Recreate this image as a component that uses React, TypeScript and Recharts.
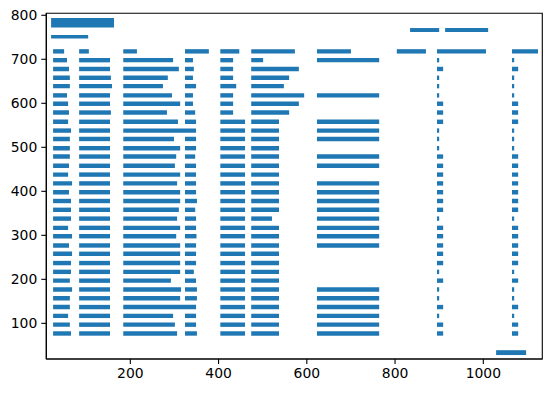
import { ComposedChart, ReferenceArea, XAxis, YAxis } from "recharts";

const xDomain = [9.6, 1133.7];
const yDomain = [19, 804.5];
const xTicks = [200, 400, 600, 800, 1000];
const yTicks = [100, 200, 300, 400, 500, 600, 700, 800];

// table body: one entry per text row, top to bottom
const rowY = [698, 678, 658, 639, 618, 599, 579, 558, 538, 519, 498, 479, 458, 438, 418, 398, 378, 358, 338, 317, 298, 277, 258, 237, 217, 197, 177, 157, 137, 117, 97, 77];
const colStart = [25, 84, 184, 324, 404, 474, 623, 895, 1065];
const colAEnd = [56.5, 61, 63, 63, 56.5, 59, 61, 59, 65.6, 63, 63, 63, 61, 59, 68, 61, 65.6, 65.6, 65.6, 59, 68, 61, 68, 65.6, 65.6, 63, 68, 63, 63, 59, 63, 65.6];
const colBEnd = [154, 154, 156, 158.5, 154, 154, 156, 154, 154, 154, 154, 154, 154, 154, 154, 154, 154, 154, 154, 154, 154, 154, 154, 154, 154, 154, 154, 154, 154, 154, 154, 154];
const colCEnd = [297, 310, 285, 274, 294.5, 313, 283, 308, 349, 299, 313, 304, 301, 313, 306, 313, 313, 310, 306, 313, 304, 313, 313, 313, 313, 292, 315, 313, 349, 297, 301, 306];
const colDEnd = [342, 344, 342, 349, 342, 342, 347, 349, null, 349, 349, 347, 349, 349, 349, 349, 351, 347, 349, 349, 350, 349, 349, 349, 344, 349, 351, 351, null, 349, 349, 351];
const colEEnd = [433, 433, 433, 440, 433, 433, 433, 460, 460, 460, 460, 460, 460, 460, 460, 460, 460, 460, 460, 460, 460, 460, 460, 460, 460, 460, 460, 460, 460, 460, 460, 460];
const colFEnd = [501, 582, 560, 548, 594, 582, 560, 537, 537, 537, 537, 537, 537, 537, 537, 537, 537, 537, 521, 537, 537, 537, 537, 537, 537, 537, 537, 537, 537, 537, 537, 537];
const colGEnd = [764, null, null, null, 764, null, null, 764, 764, 764, null, 764, 764, null, 764, 764, 764, 764, 764, 764, 764, 764, null, null, null, null, 764, 764, 764, 764, 764, 764];
const colHEnd = [900, 909, 900, 900, 900, 909, 909, 909, 900, 900, 900, 909, 909, 909, 909, 909, 909, 909, 900, 909, 909, 909, 909, 909, 900, 909, 900, 900, 909, 900, 909, 909];
const colIEnd = [1070, 1079, 1070, 1070, 1070, 1079, 1079, 1079, 1070, 1070, 1070, 1079, 1079, 1079, 1079, 1079, 1079, 1079, 1070, 1079, 1079, 1079, 1079, 1079, 1070, 1079, 1070, 1070, 1079, 1070, 1079, 1079];
const colEnds = [colAEnd, colBEnd, colCEnd, colDEnd, colEEnd, colFEnd, colGEnd, colHEnd, colIEnd];

// header row
const headerY = 718;
const headerStart = [25, 84, 184, 324, 404, 474, 623, 804, 895, 1065];
const headerEnd = [50, 106, 215, 378, 447, 573, 700, 870, 1006, 1124];

// loose blocks: [x0, x1, y0, y1]
const extraBoxes = [
  [20.5, 163, 772, 794],
  [20.5, 104.5, 747, 755],
  [834, 900, 762, 771],
  [913.5, 1011, 762, 771],
  [1029, 1097, 28, 39],
];

const rowHeight = 10;
const blue = "#1f77b4";

const boxes: number[][] = [];
rowY.forEach((y, i) => {
  colEnds.forEach((ends, c) => {
    const end = ends[i];
    if (end != null) boxes.push([colStart[c], end, y - rowHeight / 2, y + rowHeight / 2]);
  });
});
headerStart.forEach((x0, i) => {
  boxes.push([x0, headerEnd[i], headerY - rowHeight / 2, headerY + rowHeight / 2]);
});
extraBoxes.forEach((b) => boxes.push(b));

const tickStyle = { fill: "#000", fontSize: 13.9, fontFamily: "DejaVu Sans" };

export default function App() {
  return (
    <div style={{ position: "absolute", left: 0, top: 0, background: "#fff" }}>
      <ComposedChart
        width={552}
        height={393}
        margin={{ top: 13.3, right: 9.7, bottom: 0, left: 0 }}
      >
        <XAxis
          type="number"
          dataKey="x"
          domain={xDomain}
          ticks={xTicks}
          interval={0}
          allowDataOverflow
          height={34}
          tickSize={5}
          tickMargin={4}
          tick={tickStyle}
          axisLine={{ stroke: "#000", strokeWidth: 1.1 }}
          tickLine={{ stroke: "#000", strokeWidth: 1.1 }}
        />
        <YAxis
          type="number"
          dataKey="y"
          domain={yDomain}
          ticks={yTicks}
          interval={0}
          allowDataOverflow
          width={46.3}
          tickSize={5}
          tickMargin={4}
          tick={tickStyle}
          axisLine={{ stroke: "#000", strokeWidth: 1.1 }}
          tickLine={{ stroke: "#000", strokeWidth: 1.1 }}
        />
        {boxes.map((b, i) => (
          <ReferenceArea
            key={i}
            x1={b[0]}
            x2={b[1]}
            y1={b[2]}
            y2={b[3]}
            fill={blue}
            fillOpacity={1}
            strokeWidth={0}
            ifOverflow="visible"
          />
        ))}
        <ReferenceArea
          x1={xDomain[0]}
          x2={xDomain[1]}
          y1={yDomain[0]}
          y2={yDomain[1]}
          fill="none"
          stroke="#000"
          strokeWidth={1.1}
          ifOverflow="visible"
        />
      </ComposedChart>
    </div>
  );
}
